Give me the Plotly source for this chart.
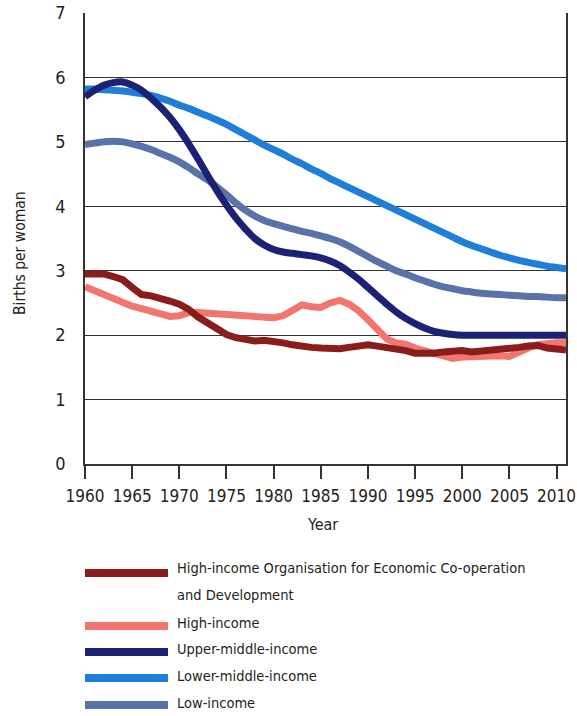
import plotly.graph_objects as go

years = list(range(1960, 2012))

oecd_high_income = [2.95, 2.96, 2.95, 2.91, 2.86, 2.74, 2.63, 2.61, 2.58, 2.53,
                    2.48, 2.40, 2.28, 2.18, 2.08, 2.01, 1.96, 1.93, 1.91, 1.92,
                    1.91, 1.88, 1.85, 1.82, 1.81, 1.80, 1.79, 1.79, 1.81, 1.83,
                    1.85, 1.83, 1.81, 1.78, 1.76, 1.72, 1.71, 1.72, 1.74, 1.76,
                    1.76, 1.74, 1.75, 1.77, 1.78, 1.80, 1.81, 1.83, 1.84, 1.80,
                    1.78, 1.77]

high_income = [2.75, 2.69, 2.62, 2.56, 2.50, 2.45, 2.41, 2.37, 2.33, 2.29,
               2.30, 2.35, 2.35, 2.34, 2.33, 2.32, 2.31, 2.30, 2.29, 2.27,
               2.27, 2.30, 2.40, 2.47, 2.44, 2.43, 2.50, 2.54, 2.48, 2.38,
               2.24, 2.08, 1.94, 1.88, 1.86, 1.80, 1.76, 1.72, 1.68, 1.64,
               1.66, 1.67, 1.68, 1.68, 1.68, 1.67, 1.74, 1.80, 1.85, 1.87,
               1.88, 1.88]

upper_middle_income = [5.70, 5.80, 5.88, 5.92, 5.93, 5.88, 5.80, 5.68, 5.54, 5.38,
                       5.19, 4.97, 4.73, 4.48, 4.24, 4.02, 3.82, 3.65, 3.50, 3.40,
                       3.33, 3.29, 3.27, 3.25, 3.23, 3.20, 3.15, 3.08, 2.98, 2.87,
                       2.74, 2.61, 2.48, 2.36, 2.26, 2.18, 2.11, 2.06, 2.03, 2.01,
                       2.00, 2.00, 2.00, 2.00, 2.00, 2.00, 2.00, 2.00, 2.00, 2.00,
                       2.00, 2.00]

lower_middle_income = [5.82, 5.82, 5.81, 5.80, 5.79, 5.77, 5.75, 5.72, 5.68, 5.63,
                       5.57, 5.52, 5.46, 5.40, 5.34, 5.27, 5.19, 5.11, 5.03, 4.95,
                       4.88, 4.81, 4.73, 4.66, 4.58, 4.51, 4.43, 4.36, 4.29, 4.22,
                       4.15, 4.08, 4.01, 3.94, 3.87, 3.80, 3.73, 3.66, 3.59, 3.52,
                       3.45, 3.39, 3.34, 3.29, 3.24, 3.20, 3.16, 3.13, 3.10, 3.07,
                       3.05, 3.03]

low_income = [4.96, 4.98, 5.00, 5.01, 5.00, 4.97, 4.93, 4.88, 4.82, 4.76,
              4.69, 4.60, 4.50, 4.41, 4.30, 4.18, 4.05, 3.94, 3.85, 3.78,
              3.73, 3.69, 3.65, 3.61, 3.58, 3.54, 3.50, 3.45, 3.38, 3.30,
              3.22, 3.14, 3.07, 3.00, 2.95, 2.89, 2.84, 2.79, 2.75, 2.72,
              2.69, 2.67, 2.65, 2.64, 2.63, 2.62, 2.61, 2.60, 2.60, 2.59,
              2.58, 2.58]

series_names = [
    "High-income Organisation for Economic Co-operation<br>and Development",
    "High-income",
    "Upper-middle-income",
    "Lower-middle-income",
    "Low-income",
]
series_values = [oecd_high_income, high_income, upper_middle_income,
                 lower_middle_income, low_income]
series_colors = ["#8a1c1c", "#f2756f", "#1b2273", "#1f7fd8", "#5a72aa"]
series_shapes = ["linear", "linear", "spline", "spline", "spline"]

x_ticks = list(range(1960, 2011, 5))
y_ticks = list(range(0, 8))

FONT = "DejaVu Sans Condensed, Liberation Sans Narrow, sans-serif"
TXT = "#231f20"

fig = go.Figure()
order = [3, 4, 2, 1, 0]
for i in order:
    fig.add_trace(go.Scatter(
        x=years, y=series_values[i], mode="lines", name=series_names[i],
        line=dict(color=series_colors[i], width=7, shape=series_shapes[i]),
        showlegend=False, hoverinfo="x+y+name",
    ))

# manual legend (pixel positions converted to paper coordinates)
L, T, W, H = 85, 13, 481, 451
row_line_px = [573, 626, 652, 678, 705]
row_text_px = [568, 623, 649, 676, 703]
LINE_GAP = 27
for i in range(5):
    yl = (T + H - row_line_px[i]) / H
    fig.add_shape(type="line", xref="paper", yref="paper",
                  x0=0.0, x1=(168 - L) / W, y0=yl, y1=yl,
                  line=dict(color=series_colors[i], width=8))
    for k, part in enumerate(series_names[i].split("<br>")):
        yt = (T + H - row_text_px[i] - k * LINE_GAP) / H
        fig.add_annotation(xref="paper", yref="paper", x=(175 - L) / W, y=yt,
                           xanchor="left", yanchor="middle",
                           text=part, showarrow=False, align="left",
                           font=dict(family=FONT, size=14.5, color=TXT))

# axis titles
fig.add_annotation(xref="paper", yref="paper", x=(322 - L) / W, y=(T + H - 524) / H,
                   xanchor="center", yanchor="middle",
                   text="Year", showarrow=False,
                   font=dict(family=FONT, size=16, color=TXT))
fig.add_annotation(xref="paper", yref="paper", x=(20 - L) / W, y=(T + H - 253) / H,
                   xanchor="center", yanchor="middle",
                   text="Births per woman", showarrow=False, textangle=-90,
                   font=dict(family=FONT, size=15.5, color=TXT))

fig.update_layout(
    width=577, height=716,
    margin=dict(l=L, r=577 - L - W, t=T, b=716 - T - H),
    paper_bgcolor="white", plot_bgcolor="white",
    font=dict(family=FONT, color=TXT),
    showlegend=False,
    xaxis=dict(range=[1960, 2011], tickvals=x_ticks, ticktext=[str(v) for v in x_ticks],
               showgrid=False, zeroline=False, showline=True, linecolor="#333333",
               linewidth=1.5, ticks="outside", ticklen=13, tickwidth=1.5,
               tickcolor="#333333", tickangle=0, automargin=False,
               ticklabelstandoff=3,
               tickfont=dict(family=FONT, size=17, color=TXT)),
    yaxis=dict(range=[0, 7], tickvals=y_ticks, showgrid=True, gridcolor="#333333",
               gridwidth=1.2, zeroline=False, showline=True, mirror=True,
               linecolor="#333333", linewidth=1.5, ticks="", automargin=False,
               ticklabelstandoff=14,
               tickfont=dict(family=FONT, size=18, color=TXT)),
)

fig.write_html(
    "out.html",
    config={"displayModeBar": False},
    post_script="document.body.style.margin='0px';document.body.style.overflow='hidden';",
)
